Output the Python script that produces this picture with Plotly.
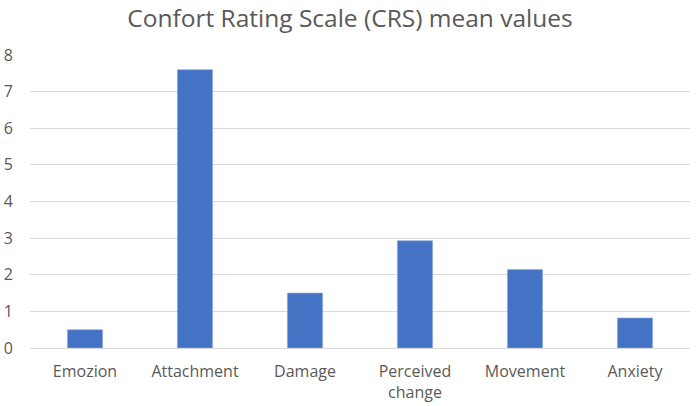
import plotly.graph_objects as go

categories = ["Emozion", "Attachment", "Damage", "Perceived<br>change", "Movement", "Anxiety"]
values = [0.5, 7.6, 1.5, 2.93, 2.14, 0.82]
y_ticks = [0, 1, 2, 3, 4, 5, 6, 7, 8]

fig = go.Figure(go.Bar(
    x=categories, y=values,
    marker=dict(color="#4472C4", line=dict(color="#8FAADC", width=0.6)),
    width=0.32,
))

fig.update_layout(
    width=700, height=406,
    margin=dict(l=30, r=10, t=55, b=58),
    paper_bgcolor="white", plot_bgcolor="white",
    title=dict(text="Confort Rating Scale (CRS) mean values", x=0.5, xanchor="center",
               y=0.955, yanchor="middle",
               font=dict(family="Open Sans, Liberation Sans, sans-serif", size=24.5, color="#595959")),
    font=dict(family="Open Sans, Liberation Sans, sans-serif", size=16, color="#595959"),
    showlegend=False,
)
fig.update_yaxes(range=[0, 8], tickvals=y_ticks, showgrid=True, gridcolor="#D9D9D9", gridwidth=1,
                 zeroline=True, zerolinecolor="#D9D9D9", zerolinewidth=1, automargin=False,
                 ticks="", ticklabelstandoff=16, tickfont=dict(size=16, color="#595959"))
fig.update_xaxes(showgrid=False, ticks="", tickfont=dict(size=16, color="#595959"),
                 ticklabelstandoff=12, automargin=False)

fig.write_html("out.html")
